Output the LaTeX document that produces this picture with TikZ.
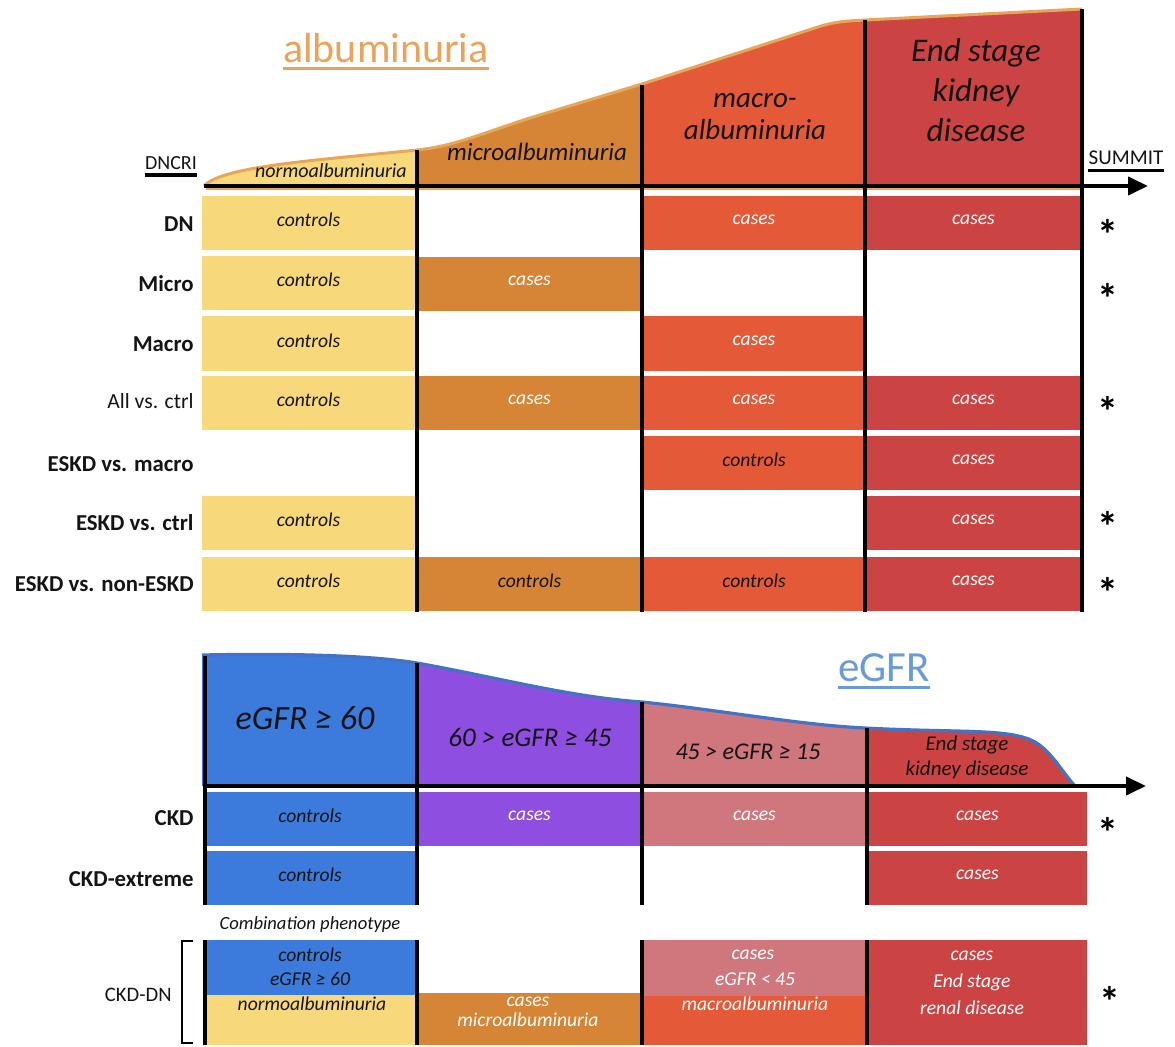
\documentclass[tikz,border=0pt]{standalone}
\usepackage{fontspec}
\setmainfont{Carlito}
\usetikzlibrary{arrows.meta}
\definecolor{cyel}{HTML}{F7D97C}
\definecolor{cmic}{HTML}{D58535}
\definecolor{cmac}{HTML}{E45A38}
\definecolor{cesk}{HTML}{CB4443}
\definecolor{cblu}{HTML}{3C7BDC}
\definecolor{cpur}{HTML}{8E4EE0}
\definecolor{cpnk}{HTML}{CF777D}
\definecolor{corl}{HTML}{E9A657}
\definecolor{cbll}{HTML}{4472C4}
\definecolor{ctit}{HTML}{E8A35C}
\definecolor{cegt}{HTML}{6A9BD8}
\definecolor{ctxt}{HTML}{141414}
\newcommand\mycell[8]{%
  \fill[#5] (#1,#2) rectangle (#3,#4);
  \node[celltxt,text=#6] (#7) at ({(#1+#3)/2},{(#2+#4)/2-3}) {#8};}
\tikzset{
  celltxt/.style={font=\fontsize{9.8}{11}\selectfont\itshape, inner sep=0pt, align=center},
  rowlab/.style={font=\fontsize{11.4}{13}\selectfont\bfseries, anchor=east, inner sep=0pt, text=ctxt},
  rowlabn/.style={font=\fontsize{10.8}{13}\selectfont, anchor=east, inner sep=0pt, text=ctxt},
  star/.style={font=\fontsize{21}{21}\selectfont\bfseries, inner sep=0pt},
  vline/.style={line width=1.6pt, black},
  axisline/.style={line width=2pt, black, -{Triangle[length=10pt,width=9pt]}},
  hdr/.style={inner sep=0pt, align=center, text=ctxt},
}
\begin{document}
\begin{tikzpicture}[x=0.5pt,y=-0.5pt]
\useasboundingbox (0,0) rectangle (1175,1047);
\fill[white] (0,0) rectangle (1175,1047);

% ---------- albuminuria header ----------
\node[inner sep=0pt, text=ctit, font=\fontsize{21}{24}\selectfont] (alb) at (386,48) {albuminuria};
\draw[ctit, line width=1.5pt] ([yshift=-2.5pt]alb.south west) -- ([yshift=-2.5pt]alb.south east);

\begin{scope}
\clip (204,186) .. controls (222,166) and (320,160) .. (417,150) .. controls (455,146) and (480,134) .. (530,118) -- (642,84) -- (815,28) .. controls (832,22) and (845,21) .. (865,20) -- (1082,9) -- (1082,188) -- (204,188) -- cycle;
\fill[cyel] (200,0) rectangle (417,188);
\fill[cmic] (417,0) rectangle (642,188);
\fill[cmac] (642,0) rectangle (865,188);
\fill[cesk] (865,0) rectangle (1082,188);
\end{scope}
\draw[corl, line width=1.5pt] (204,186) .. controls (222,166) and (320,160) .. (417,150) .. controls (455,146) and (480,134) .. (530,118) -- (642,84) -- (815,28) .. controls (832,22) and (845,21) .. (865,20) -- (1082,9);
\draw[corl, line width=1pt] (206,189) -- (1082,189);

\node[hdr, font=\fontsize{10}{12}\selectfont\itshape] (hnorm) at (331,171) {normoalbuminuria};
\node[hdr, font=\fontsize{12.5}{14}\selectfont\itshape] (hmic) at (537,152) {microalbuminuria};
\node[hdr, font=\fontsize{14.5}{16}\selectfont\itshape] (hmac) at (755,117) {macro-\\albuminuria};
\node[hdr, font=\fontsize{16.5}{20}\selectfont\itshape] (hesk) at (976,90) {End stage\\kidney\\disease};

\node[inner sep=0pt, text=ctxt, font=\fontsize{10}{12}\selectfont] (dncri) at (171,163) {DNCRI};
\draw[black, line width=1.7pt] ([yshift=-2.5pt]dncri.south west) -- ([yshift=-2.5pt]dncri.south east);
\node[inner sep=0pt, text=ctxt, font=\fontsize{10.5}{12}\selectfont] (summit) at (1126,158) {SUMMIT};
\draw[black, line width=1.7pt] ([yshift=-2.5pt]summit.south west) -- ([yshift=-2.5pt]summit.south east);

% ---------- top table ----------
\mycell{202}{196}{415}{250}{cyel}{ctxt}{dnA}{controls}
\mycell{644}{196}{864}{250}{cmac}{white}{dnC}{cases}
\mycell{867}{196}{1080}{250}{cesk}{white}{dnD}{cases}

\mycell{202}{256}{415}{310}{cyel}{ctxt}{miA}{controls}
\mycell{418}{257}{641}{311}{cmic}{white}{miB}{cases}

\mycell{202}{316}{415}{371}{cyel}{ctxt}{maA}{controls}
\mycell{644}{316}{864}{371}{cmac}{white}{maC}{cases}

\mycell{202}{376}{415}{430}{cyel}{ctxt}{alA}{controls}
\mycell{418}{376}{641}{430}{cmic}{white}{alB}{cases}
\mycell{644}{376}{864}{430}{cmac}{white}{alC}{cases}
\mycell{867}{376}{1080}{430}{cesk}{white}{alD}{cases}

\mycell{644}{436}{864}{490}{cmac}{ctxt}{emC}{controls}
\mycell{867}{436}{1080}{490}{cesk}{white}{emD}{cases}

\mycell{202}{496}{415}{550}{cyel}{ctxt}{ecA}{controls}
\mycell{867}{496}{1080}{550}{cesk}{white}{ecD}{cases}

\mycell{202}{557}{415}{611}{cyel}{ctxt}{enA}{controls}
\mycell{418}{557}{641}{611}{cmic}{ctxt}{enB}{controls}
\mycell{644}{557}{864}{611}{cmac}{ctxt}{enC}{controls}
\mycell{867}{557}{1080}{611}{cesk}{white}{enD}{cases}

\draw[vline] (417,150) -- (417,612);
\draw[vline] (642,85) -- (642,612);
\draw[vline] (865,20) -- (865,612);
\draw[vline] (1082,9) -- (1082,612);
\coordinate (ta0) at (204,186);
\coordinate (ta1) at (1148,186);
\draw[axisline] (ta0) -- (ta1);

\node[rowlab] (lDN) at (194,224) {DN};
\node[rowlab] (lMi) at (194,284) {Micro};
\node[rowlab] (lMa) at (194,344) {Macro};
\node[rowlabn] (lAl) at (194,401) {All vs. ctrl};
\node[rowlab] (lEm) at (194,464) {ESKD vs. macro};
\node[rowlab] (lEc) at (194,523) {ESKD vs. ctrl};
\node[rowlab] (lEn) at (194,584) {ESKD vs. non-ESKD};

\node[star] (s1) at (1108,234) {*};
\node[star] (s2) at (1108,298) {*};
\node[star] (s3) at (1108,411) {*};
\node[star] (s4) at (1108,526) {*};
\node[star] (s5) at (1108,592) {*};

% ---------- eGFR header ----------
\node[inner sep=0pt, text=cegt, font=\fontsize{21.5}{24}\selectfont] (egt) at (884,668) {eGFR};
\draw[cegt, line width=1.5pt] ([yshift=-2.5pt]egt.south west) -- ([yshift=-2.5pt]egt.south east);

\begin{scope}
\clip (202,655) .. controls (300,653) and (375,656) .. (417,663) .. controls (500,678) and (570,697) .. (642,702) .. controls (720,710) and (800,725) .. (865,728) .. controls (960,733) and (1010,728) .. (1035,742) .. controls (1052,752) and (1062,772) .. (1075,786) -- (202,786) -- cycle;
\fill[cblu] (200,640) rectangle (417,787);
\fill[cpur] (417,640) rectangle (642,787);
\fill[cpnk] (642,640) rectangle (867,787);
\fill[cesk] (867,640) rectangle (1090,787);
\end{scope}
\draw[cbll, line width=1.6pt] (202,655) .. controls (300,653) and (375,656) .. (417,663) .. controls (500,678) and (570,697) .. (642,702) .. controls (720,710) and (800,725) .. (865,728) .. controls (960,733) and (1010,728) .. (1035,742) .. controls (1052,752) and (1062,772) .. (1075,786);

\node[hdr, font=\fontsize{17}{20}\selectfont\itshape] (g1) at (305,718) {eGFR ≥ 60};
\node[hdr, font=\fontsize{13.5}{16}\selectfont\itshape] (g2) at (530,737) {60 > eGFR ≥ 45};
\node[hdr, font=\fontsize{12}{14}\selectfont\itshape] (g3) at (748,752) {45 > eGFR ≥ 15};
\node[hdr, font=\fontsize{10.5}{12.5}\selectfont\itshape] (g4) at (967,757) {End stage\\kidney disease};

% ---------- bottom table ----------
\mycell{205}{792}{415}{846}{cblu}{ctxt}{ckA}{controls}
\mycell{418}{792}{641}{846}{cpur}{white}{ckB}{cases}
\mycell{644}{792}{865}{846}{cpnk}{white}{ckC}{cases}
\mycell{868}{792}{1087}{846}{cesk}{white}{ckD}{cases}

\mycell{205}{851}{415}{905}{cblu}{ctxt}{cxA}{controls}
\mycell{868}{851}{1087}{905}{cesk}{white}{cxD}{cases}

\node[celltxt, text=ctxt, font=\fontsize{9.3}{11}\selectfont\itshape] (comb) at (310,925) {Combination phenotype};

% CKD-DN
\fill[cblu] (205,940) rectangle (415,995);
\fill[cyel] (205,995) rectangle (415,1045);
\fill[cmic] (418,993) rectangle (641,1045);
\fill[cpnk] (644,940) rectangle (865,996);
\fill[cmac] (644,996) rectangle (865,1045);
\fill[cesk] (868,940) rectangle (1087,1045);
\node[celltxt, text=ctxt] (cdA1) at (310,955) {controls};
\node[celltxt, text=ctxt] (cdA2) at (310,979) {eGFR ≥ 60};
\node[celltxt, text=ctxt] (cdA3) at (312,1004) {normoalbuminuria};
\node[celltxt, text=white] (cdB) at (528,1012) {cases\\[-1pt]microalbuminuria};
\node[celltxt, text=white] (cdC1) at (753,955) {cases};
\node[celltxt, text=white] (cdC2) at (755,979) {eGFR < 45};
\node[celltxt, text=white] (cdC3) at (755,1004) {macroalbuminuria};
\node[celltxt, text=white] (cdD1) at (972,956) {cases};
\node[celltxt, text=white] (cdD2) at (972,982) {End stage};
\node[celltxt, text=white] (cdD3) at (972,1008) {renal disease};

\draw[vline] (205,656) -- (205,905);
\draw[vline] (417,663) -- (417,905);
\draw[vline] (642,702) -- (642,905);
\draw[vline] (867,728) -- (867,905);
\draw[vline] (205,940) -- (205,1045);
\draw[vline] (417,940) -- (417,1045);
\draw[vline] (642,940) -- (642,1045);
\draw[vline] (867,940) -- (867,1045);
\coordinate (ba0) at (205,786);
\coordinate (ba1) at (1146,786);
\draw[axisline] (ba0) -- (ba1);

\node[rowlab] (lCK) at (194,818) {CKD};
\node[rowlab] (lCX) at (194,879) {CKD-extreme};
\node[rowlabn, font=\fontsize{10.3}{12}\selectfont] (lCD) at (172,995) {CKD-DN};
\draw[black, line width=1pt] (193,941) -- (182,941) -- (182,1043) -- (193,1043);

\node[star] (s6) at (1108,832) {*};
\node[star] (s7) at (1110,1001) {*};
\end{tikzpicture}
\end{document}
